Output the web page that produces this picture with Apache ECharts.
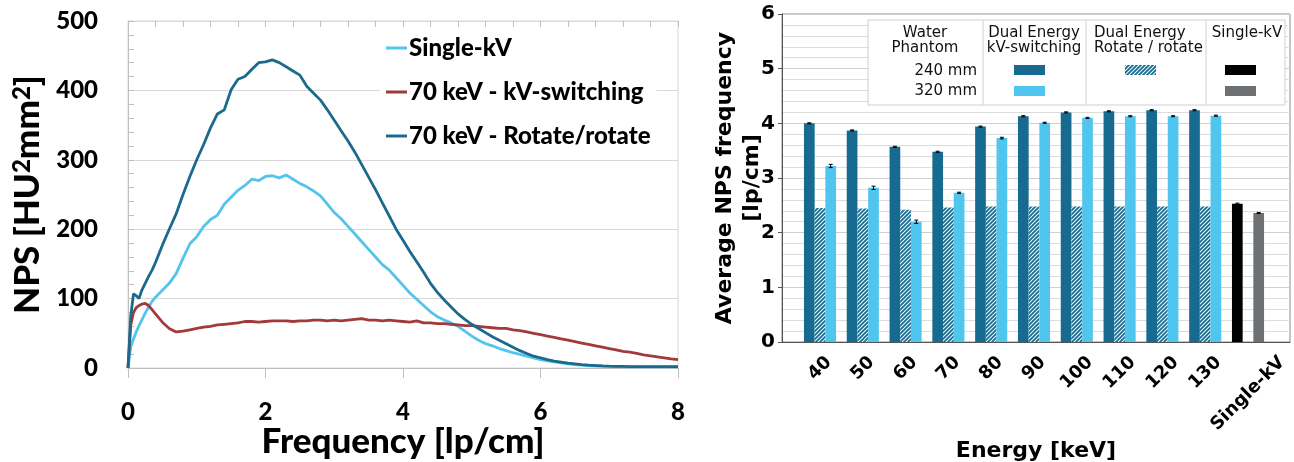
<!DOCTYPE html>
<html>
<head>
<meta charset="utf-8">
<script src="https://cdn.jsdelivr.net/npm/echarts@6/dist/echarts.min.js"></script>
<style>
  html, body { margin: 0; padding: 0; background: #fff; }
  #chart { width: 1294px; height: 462px; }
</style>
</head>
<body>
<div id="chart"></div>
<script>
// left panel: NPS curves
const freq = [0, 0.04, 0.08, 0.12, 0.16, 0.2, 0.25, 0.3, 0.35, 0.4,
  0.5, 0.6, 0.7, 0.8, 0.9, 1.0, 1.1, 1.2, 1.3, 1.4,
  1.5, 1.6, 1.7, 1.8, 1.9, 2.0, 2.1, 2.2, 2.3, 2.4,
  2.5, 2.6, 2.7, 2.8, 2.9, 3.0, 3.1, 3.2, 3.3, 3.4,
  3.5, 3.6, 3.7, 3.8, 3.9, 4.0, 4.1, 4.2, 4.3, 4.4,
  4.5, 4.6, 4.7, 4.8, 4.9, 5.0, 5.1, 5.2, 5.3, 5.4,
  5.5, 5.6, 5.7, 5.8, 5.9, 6.0, 6.1, 6.2, 6.3, 6.4,
  6.5, 6.6, 6.7, 6.8, 6.9, 7.0, 7.1, 7.2, 7.3, 7.4,
  7.5, 7.6, 7.7, 7.8, 7.9, 8.0];

const npsSingleKv = [0, 30, 42, 52, 61, 69, 79, 88, 96, 102,
  112, 122, 136, 158, 179, 189, 204, 214, 220, 236,
  246, 256, 263, 272, 270, 276, 277, 274, 278, 272,
  266, 261, 255, 248, 236, 224, 215, 204, 193, 182,
  171, 160, 149, 141, 130, 119, 108, 99, 90, 81,
  74, 69, 65, 60, 53, 46, 40, 35, 32, 28,
  25, 22, 19.5, 17, 14.5, 12.2, 10.3, 8.7, 7.3, 6,
  5, 4.2, 3.5, 3, 2.6, 2.3, 2, 1.8, 1.7, 1.6,
  1.5, 1.5, 1.5, 1.5, 1.5, 1.5];

const npsKvSwitching = [0, 62, 80, 87, 90, 92, 93, 90, 84, 78,
  66, 57, 52, 53, 55, 57, 59, 60, 62, 63,
  64, 65, 67, 67, 66, 67, 68, 68, 68, 67,
  68, 68, 69, 69, 68, 69, 68, 69, 70, 71,
  69, 69, 68, 69, 68, 67, 66, 68, 65, 65,
  64, 64, 63, 62, 61, 61, 60, 59, 58, 57,
  57, 55, 54, 52, 50, 48, 46, 44, 42, 40,
  38, 36, 34, 32, 30, 28, 26, 24, 23, 21,
  19, 17.5, 16, 14.5, 13, 12];

const npsRotate = [0, 75, 107, 104, 100, 112, 122, 132, 141, 152,
  177, 200, 222, 250, 276, 300, 322, 346, 366, 372,
  401, 416, 420, 430, 440, 441, 444, 440, 434, 428,
  422, 406, 396, 386, 372, 357, 342, 327, 311, 293,
  275, 257, 238, 219, 200, 184, 168, 153, 138, 122,
  109, 98, 88, 78, 70, 63, 57, 51, 45, 40,
  35, 30, 25, 21, 17, 14.5, 12, 10, 8.5, 7,
  6, 5, 4.2, 3.6, 3.1, 2.7, 2.4, 2.2, 2, 2,
  2, 2, 2, 2, 2, 2];

// right panel: average NPS frequency
const energies = ['40', '50', '60', '70', '80', '90', '100', '110', '120', '130', 'Single-kV'];
const kvs240 = [4.00, 3.87, 3.57, 3.48, 3.94, 4.13, 4.20, 4.22, 4.24, 4.24];
const kvs320 = [3.22, 2.82, 2.20, 2.73, 3.73, 4.01, 4.10, 4.13, 4.13, 4.14];
const rr240 = [2.45, 2.44, 2.42, 2.46, 2.48, 2.48, 2.48, 2.48, 2.48, 2.48];
const singleKv = [2.53, 2.36];   // 240 mm, 320 mm
const err240 = [0.01, 0.01, 0.01, 0.01, 0.01, 0.01, 0.01, 0.01, 0.01, 0.01, 0.01];
const err320 = [0.03, 0.03, 0.03, 0.01, 0.015, 0.01, 0.01, 0.01, 0.01, 0.01, 0.01];

const cLight = '#54c4ec', cRed = '#a13a3a', cDark = '#1b6a8e';
const cBarDark = '#176a90', cBarLight = '#50c6ee', cGrayBar = '#6e7174';
const calib = 'Lato';
const mpl = '"DejaVu Sans"';

function hatch() {
  const c = document.createElement('canvas');
  c.width = 4; c.height = 4;
  const g = c.getContext('2d');
  g.fillStyle = cBarDark;
  g.fillRect(0, 0, 4, 4);
  g.strokeStyle = 'rgba(255,255,255,0.95)';
  g.lineWidth = 1.1;
  g.beginPath();
  g.moveTo(0, 4); g.lineTo(4, 0);
  g.moveTo(-1, 1); g.lineTo(1, -1);
  g.moveTo(3, 5); g.lineTo(5, 3);
  g.stroke();
  return c;
}
const hatchFill = { image: hatch(), repeat: 'repeat' };

// rotated tick labels centred under the tick, bbox top just below the axis
const tickFont = 18, tickLH = 20;
const meas = document.createElement('canvas').getContext('2d');
meas.font = 'bold ' + tickFont + 'px ' + mpl;
const catData = energies.map(function (e) {
  const L = meas.measureText(e).width;
  const d = (L + tickFont * 1.17) * 0.354;
  const b = (10 + d) / 1.414;
  return {
    value: e,
    textStyle: {
      align: 'center', verticalAlign: 'top', lineHeight: tickLH,
      padding: [Math.max(0, b - tickLH / 2), 2 * b, 0, 0],
      fontFamily: mpl, fontWeight: 'bold', fontSize: tickFont, color: '#000'
    }
  };
});

const toXY = arr => freq.map((f, i) => [f, arr[i]]);

const barW = 10.7;
const errData = [];
err240.forEach(function (e, i) {
  errData.push([i, i < 10 ? kvs240[i] : singleKv[0], e, -1]);
});
err320.forEach(function (e, i) {
  errData.push([i, i < 10 ? kvs320[i] : singleKv[1], e, 1]);
});

const tblText = { fontFamily: mpl, fontSize: 15, fill: '#111' };
function txt(x, y, s, align) {
  return { type: 'text', z: 100, x: x, y: y, style: Object.assign({ text: s, align: align || 'center', verticalAlign: 'middle' }, tblText) };
}
function sw(x, y, fill) {
  return { type: 'rect', z: 101, shape: { x: x, y: y, width: 31, height: 10 }, style: { fill: fill } };
}
function vline(x) {
  return { type: 'line', z: 100, shape: { x1: x, y1: 20, x2: x, y2: 105 }, style: { stroke: '#cfcfcf', lineWidth: 1 } };
}

const chart = echarts.init(document.getElementById('chart'));
chart.setOption({
  animation: false,
  backgroundColor: '#fff',
  legend: {
    data: ['Single-kV', '70 keV - kV-switching', '70 keV - Rotate/rotate'],
    orient: 'vertical',
    left: 380, top: 34,
    itemWidth: 21, itemHeight: 3, itemGap: 20,
    icon: 'rect',
    backgroundColor: '#fff',
    padding: [2, 6],
    textStyle: { fontFamily: calib, fontWeight: 900, fontSize: 24, color: '#000', padding: [0, 0, 0, -3] }
  },
  grid: [
    { left: 128, top: 21, width: 550, height: 347, show: true, borderColor: '#d9d9d9', borderWidth: 1, outerBoundsMode: 'none' },
    { left: 782, top: 14, width: 508, height: 328, show: true, borderColor: '#8c8c8c', borderWidth: 1, outerBoundsMode: 'none' },
    { left: 798.6, top: 14, width: 470.8, height: 328, outerBoundsMode: 'none' }
  ],
  xAxis: [
    {
      gridIndex: 0, type: 'value', min: 0, max: 8, interval: 2,
      axisLine: { lineStyle: { color: '#bfbfbf', width: 1 } },
      axisTick: { length: 10, lineStyle: { color: '#bfbfbf' } },
      axisLabel: { margin: 32, fontFamily: calib, fontWeight: 900, fontSize: 24, color: '#000' },
      splitLine: { show: false },
      name: 'Frequency [lp/cm]', nameLocation: 'middle', nameGap: 56, nameMoveOverlap: false,
      nameTextStyle: { fontFamily: calib, fontWeight: 900, fontSize: 35, color: '#000' }
    },
    {
      gridIndex: 0, type: 'value', min: 0, max: 8, interval: 2,
      axisLine: { show: false },
      axisTick: { inside: true, length: 6, lineStyle: { color: '#bfbfbf' } },
      minorTick: { show: true, splitNumber: 5, length: 6, lineStyle: { color: '#bfbfbf' } },
      axisLabel: { show: false },
      splitLine: { show: false }
    },
    {
      gridIndex: 1, type: 'value', min: 0, max: 1,
      axisLine: { lineStyle: { color: '#555', width: 1 } },
      axisTick: { show: false }, axisLabel: { show: false }, splitLine: { show: false },
      name: 'Energy [keV]', nameLocation: 'middle', nameGap: 98, nameMoveOverlap: false,
      nameTextStyle: { fontFamily: mpl, fontWeight: 'bold', fontSize: 22, color: '#000' }
    },
    {
      gridIndex: 2, type: 'category', data: catData,
      axisLine: { show: false },
      axisTick: { alignWithLabel: true, length: 4, lineStyle: { color: '#555' } },
      axisLabel: {
        interval: 0, rotate: 45, margin: 0, hideOverlap: false,
        fontFamily: mpl, fontWeight: 'bold', fontSize: tickFont, color: '#000'
      }
    }
  ],
  yAxis: [
    {
      gridIndex: 0, type: 'value', min: 0, max: 500, interval: 100,
      axisLine: { show: true, lineStyle: { color: '#bfbfbf' } },
      axisTick: { show: true, inside: true, length: 6, lineStyle: { color: '#bfbfbf' } },
      minorTick: { show: true, splitNumber: 5, length: 6, lineStyle: { color: '#bfbfbf' } },
      splitLine: { lineStyle: { color: '#d9d9d9' } },
      axisLabel: { margin: 30, fontFamily: calib, fontWeight: 900, fontSize: 24, color: '#000' },
      name: 'NPS [HU{s|2}mm{s|2}]', nameLocation: 'middle', nameGap: 82, nameRotate: 90, nameMoveOverlap: false,
      nameTextStyle: {
        fontFamily: calib, fontWeight: 900, fontSize: 35, color: '#000', lineHeight: 36,
        rich: { s: { fontFamily: calib, fontWeight: 900, fontSize: 24, color: '#000', verticalAlign: 'top', lineHeight: 36 } }
      }
    },
    {
      gridIndex: 1, type: 'value', min: 0, max: 6, interval: 1,
      axisLine: { show: true, lineStyle: { color: '#555' } },
      axisTick: { show: true, length: 4, lineStyle: { color: '#555' } },
      minorTick: { show: false, splitNumber: 5 },
      splitLine: { lineStyle: { color: '#cfcfcf', width: 1 } },
      minorSplitLine: { show: true, lineStyle: { color: '#dcdcdc', width: 1 } },
      axisLabel: { margin: 7, fontFamily: mpl, fontWeight: 'bold', fontSize: 20, color: '#000' },
      name: 'Average NPS frequency\n[lp/cm]', nameLocation: 'middle', nameGap: 16, nameRotate: 90, nameMoveOverlap: false,
      nameTextStyle: { fontFamily: mpl, fontWeight: 'bold', fontSize: 22, lineHeight: 27, color: '#000' }
    },
    { gridIndex: 2, type: 'value', min: 0, max: 6, show: false }
  ],
  series: [
    {
      name: 'Single-kV', type: 'line', xAxisIndex: 0, yAxisIndex: 0, data: toXY(npsSingleKv),
      showSymbol: false, symbol: 'none', itemStyle: { color: cLight }, lineStyle: { color: cLight, width: 2.8 }
    },
    {
      name: '70 keV - kV-switching', type: 'line', xAxisIndex: 0, yAxisIndex: 0, data: toXY(npsKvSwitching),
      showSymbol: false, symbol: 'none', itemStyle: { color: cRed }, lineStyle: { color: cRed, width: 2.8 }
    },
    {
      name: '70 keV - Rotate/rotate', type: 'line', xAxisIndex: 0, yAxisIndex: 0, data: toXY(npsRotate),
      showSymbol: false, symbol: 'none', itemStyle: { color: cDark }, lineStyle: { color: cDark, width: 2.8 }
    },
    {
      name: 'kV-switching 240 mm', type: 'bar', xAxisIndex: 3, yAxisIndex: 2,
      barWidth: barW, barGap: '0%',
      itemStyle: { color: cBarDark },
      data: kvs240.concat([{ value: singleKv[0], itemStyle: { color: '#000' } }])
    },
    {
      name: 'Rotate/rotate 240 mm', type: 'bar', xAxisIndex: 3, yAxisIndex: 2,
      barWidth: barW, barGap: '0%',
      itemStyle: { color: hatchFill },
      data: rr240.concat(['-'])
    },
    {
      name: 'kV-switching 320 mm', type: 'bar', xAxisIndex: 3, yAxisIndex: 2,
      barWidth: barW, barGap: '0%',
      itemStyle: { color: cBarLight },
      data: kvs320.concat([{ value: singleKv[1], itemStyle: { color: cGrayBar } }])
    },
    {
      type: 'custom', xAxisIndex: 3, yAxisIndex: 2, z: 5, data: errData,
      renderItem: function (params, api) {
        const x = api.coord([api.value(0), 0])[0] + api.value(3) * barW;
        const lo = api.coord([api.value(0), api.value(1) - api.value(2)])[1];
        const hi = api.coord([api.value(0), api.value(1) + api.value(2)])[1];
        const st = { stroke: '#000', lineWidth: 1 };
        return {
          type: 'group', children: [
            { type: 'line', shape: { x1: x, y1: lo, x2: x, y2: hi }, style: st },
            { type: 'line', shape: { x1: x - 2, y1: lo, x2: x + 2, y2: lo }, style: st },
            { type: 'line', shape: { x1: x - 2, y1: hi, x2: x + 2, y2: hi }, style: st }
          ]
        };
      }
    }
  ],
  graphic: [
    { type: 'rect', z: 99, shape: { x: 868, y: 20, width: 417, height: 85 }, style: { fill: '#fff', stroke: '#cfcfcf', lineWidth: 1 } },
    vline(983), vline(1086), vline(1206),
    txt(925, 33, 'Water'), txt(925, 48, 'Phantom'),
    txt(977, 71, '240 mm', 'right'), txt(977, 91, '320 mm', 'right'),
    txt(1034, 33, 'Dual Energy'), txt(1034, 48, 'kV-switching'),
    txt(1094, 33, 'Dual Energy', 'left'), txt(1094, 48, 'Rotate / rotate', 'left'),
    txt(1247, 33, 'Single-kV'),
    sw(1014, 65, cBarDark), sw(1014, 86, cBarLight),
    sw(1125, 65, hatchFill),
    sw(1225, 65, '#000'), sw(1225, 86, cGrayBar)
  ]
});
</script>
</body>
</html>
